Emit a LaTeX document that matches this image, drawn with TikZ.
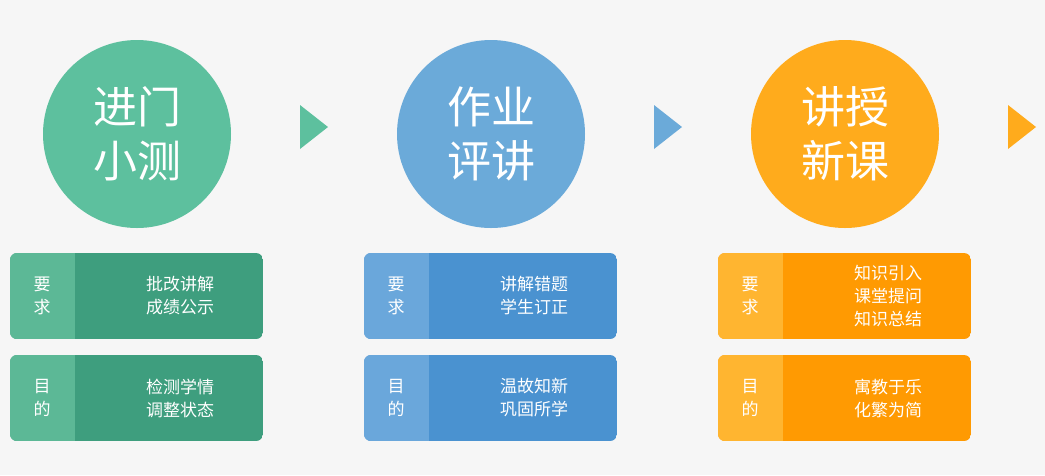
\documentclass[tikz,border=0pt]{standalone}
\usepackage{fontspec}
\newfontfamily\cjk{Noto Sans CJK SC}
\definecolor{bg}{HTML}{F6F6F6}
\definecolor{gC}{HTML}{5DC09E}\definecolor{gB}{HTML}{3E9E7E}\definecolor{gT}{HTML}{5CB896}
\definecolor{bC}{HTML}{6BAAD9}\definecolor{bB}{HTML}{4A92D0}\definecolor{bT}{HTML}{6AA7DB}
\definecolor{oC}{HTML}{FFAB1C}\definecolor{oB}{HTML}{FF9A02}\definecolor{oT}{HTML}{FFB530}
\begin{document}
\begin{tikzpicture}[x=1pt,y=-1pt,
  circ/.style={circle,minimum size=188pt,inner sep=0,text=white,font=\cjk\fontsize{44}{54}\selectfont,align=center},
  btxt/.style={text=white,font=\cjk\fontsize{17}{23}\selectfont,align=center},
  tri/.style={draw=none}]
\fill[bg] (0,0) rectangle (1045,475);
\useasboundingbox (0,0) rectangle (1045,475);
\newcommand\column[9]{%
 \node[circ,fill=#2] (c#1) at (#3+127,134) {#4};
 \foreach \yy/\lab/\txt/\nm in {253/要\\求/{#5}/a,355/目\\的/{#6}/b}{
  \begin{scope}
   \clip[rounded corners=7pt] (#3,\yy) rectangle (#3+253,\yy+86);
   \fill[#7] (#3,\yy) rectangle (#3+253,\yy+86);
   \fill[#8] (#3,\yy) rectangle (#3+65,\yy+86);
  \end{scope}
  \node[btxt] (t#1\nm) at (#3+32,\yy+43) {\lab};
  \node[btxt] (m#1\nm) at (#3+170,\yy+43) {\txt};
 }
 \fill[#9] (#3+290,105) -- (#3+318,127) -- (#3+290,149) -- cycle;
}
\column{1}{gC}{10}{进门\\小测}{批改讲解\\成绩公示}{检测学情\\调整状态}{gB}{gT}{gC}
\column{2}{bC}{364}{作业\\评讲}{讲解错题\\学生订正}{温故知新\\巩固所学}{bB}{bT}{bC}
\column{3}{oC}{718}{讲授\\新课}{知识引入\\课堂提问\\知识总结}{寓教于乐\\化繁为简}{oB}{oT}{oC}
\end{tikzpicture}
\end{document}
